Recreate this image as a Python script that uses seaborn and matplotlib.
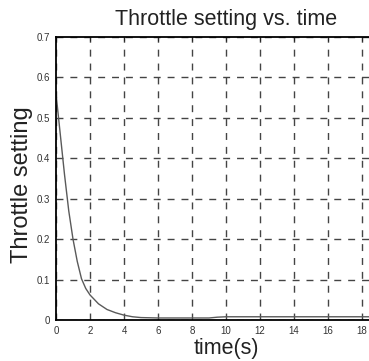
import numpy as np
import pandas as pd
import seaborn as sns
import matplotlib
matplotlib.use("Agg")
import matplotlib.pyplot as plt

# values
time_s = [0, 0.25, 0.5, 0.75, 1.0, 1.25, 1.5, 1.75, 2.0, 2.5, 3.0, 3.5, 4.0,
          4.5, 5.0, 6.0, 7.0, 8.0, 9.0, 9.5, 10.0, 12.0, 14.0, 16.0, 18.0, 20.0]
throttle = [0.56, 0.46, 0.36, 0.27, 0.20, 0.145, 0.102, 0.078, 0.062, 0.040,
            0.026, 0.018, 0.012, 0.008, 0.006, 0.005, 0.005, 0.005, 0.005,
            0.007, 0.008, 0.008, 0.008, 0.008, 0.008, 0.008]
xticks = [0, 2, 4, 6, 8, 10, 12, 14, 16, 18]
yticks = [0, 0.1, 0.2, 0.3, 0.4, 0.5, 0.6, 0.7]
ytick_labels = ["0", "0.1", "0.2", "0.3", "0.4", "0.5", "0.6", "0.7"]

df = pd.DataFrame({"time": time_s, "throttle": throttle})

sns.set_style("white")
plt.rcParams["font.family"] = ["Liberation Sans", "DejaVu Sans"]

fig = plt.figure(figsize=(3.69, 3.61), dpi=100)
ax = fig.add_axes([56 / 369, 41 / 361, 340 / 369, 283 / 361])

sns.lineplot(data=df, x="time", y="throttle", ax=ax, color="#5a5a5a", linewidth=1.0)

ax.set_xlim(0, 20)
ax.set_ylim(0, 0.7)
ax.set_xticks(xticks)
ax.set_xticklabels([str(v) for v in xticks])
ax.set_yticks(yticks)
ax.set_yticklabels(ytick_labels)
ax.tick_params(direction="in", length=3, labelsize=7, labelcolor="#333333",
               top=True, right=True, pad=4)

ax.grid(True, color="#444444", linestyle=(0, (5, 5)), linewidth=1.0)

for s in ax.spines.values():
    s.set_color("black")
    s.set_linewidth(1.3)

ax.set_title("Throttle setting vs. time", fontsize=15.5, color="#222222", pad=9)
ax.set_xlabel("time(s)", fontsize=15.5, color="#222222", labelpad=2)
ax.set_ylabel("Throttle setting", fontsize=17, color="#222222")
ax.yaxis.set_label_coords(-0.068, 0.48)

fig.savefig("out.png", dpi=100)
